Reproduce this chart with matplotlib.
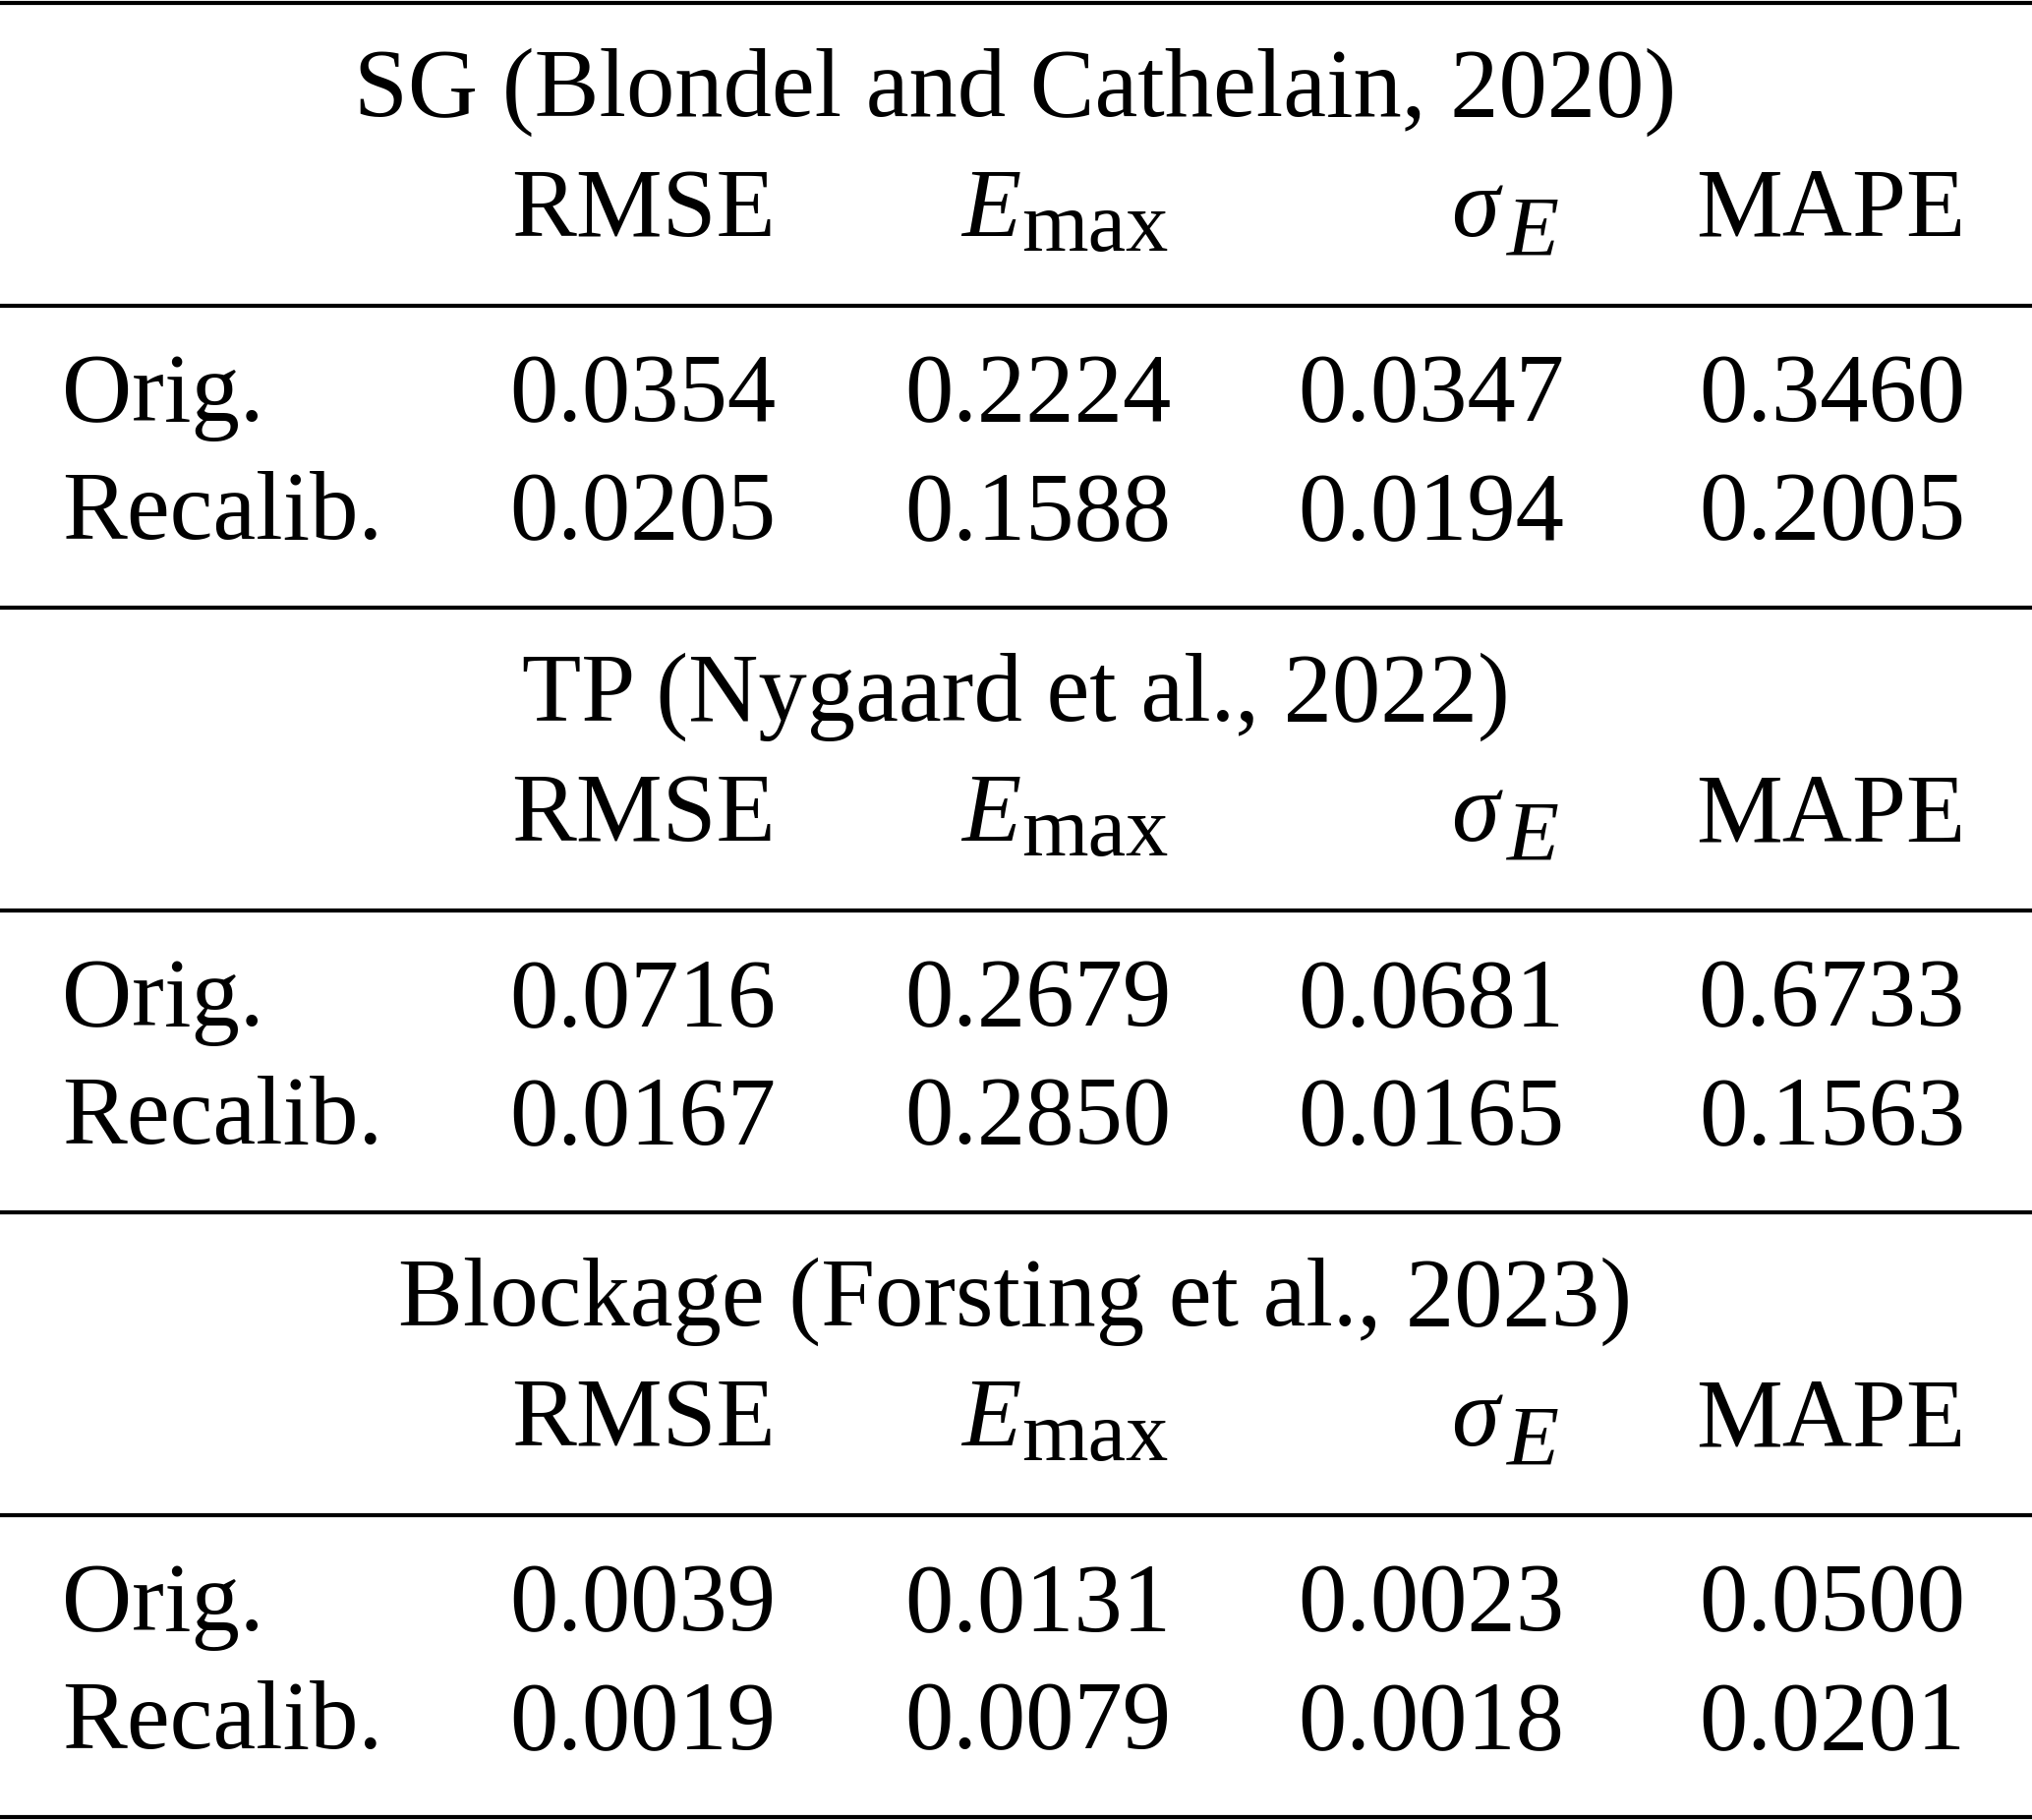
import matplotlib; matplotlib.use("Agg")
import matplotlib.pyplot as plt

# table content
titles = ["SG (Blondel and Cathelain, 2020)", "TP (Nygaard et al., 2022)", "Blockage (Forsting et al., 2023)"]
row_labels = ["Orig.", "Recalib."]
rmse  = [[0.0354, 0.0205], [0.0716, 0.0167], [0.0039, 0.0019]]
e_max = [[0.2224, 0.1588], [0.2679, 0.2850], [0.0131, 0.0079]]
sigma = [[0.0347, 0.0194], [0.0681, 0.0165], [0.0023, 0.0018]]
mape  = [[0.3460, 0.2005], [0.6733, 0.1563], [0.0500, 0.0201]]

plt.rcParams["font.family"] = "Liberation Serif"
W, H = 2067, 1851
fig = plt.figure(figsize=(W/100, H/100), dpi=100)
ax = fig.add_axes([0, 0, 1, 1]); ax.set_xlim(0, W); ax.set_ylim(H, 0); ax.axis("off")
r = fig.canvas.get_renderer()

FS = 71; SUB = FS*0.88; LW = 3.0
cols = [789, 1191, 1591, 1999]

def sub_right(x, y, base, sub, drop, gap=0, sub_style="normal"):
    t = ax.text(x, y+drop, sub, ha="right", va="baseline", fontsize=SUB, style=sub_style)
    w = t.get_window_extent(r).width
    ax.text(x-w-gap, y, base, ha="right", va="baseline", fontsize=FS, style="italic")

ax.axhline(3, color="black", lw=LW)
for i, title in enumerate(titles):
    top = 3 + 615*i
    ax.text(1033, top+115, title, ha="center", va="baseline", fontsize=FS)
    hy = top+237
    ax.text(cols[0], hy, "RMSE", ha="right", va="baseline", fontsize=FS)
    sub_right(cols[1]-3, hy, "E", "max", 15)
    sub_right(cols[2]-6, hy, "\u03c3", "E", 20, gap=7, sub_style="italic")
    ax.text(cols[3], hy, "MAPE", ha="right", va="baseline", fontsize=FS)
    ax.axhline(top+308, color="black", lw=LW)
    for j, lab in enumerate(row_labels):
        y = top+425+120*j
        ax.text(63, y, lab, ha="left", va="baseline", fontsize=FS)
        for x, v in zip(cols, [rmse[i][j], e_max[i][j], sigma[i][j], mape[i][j]]):
            ax.text(x, y, f"{v:.4f}", ha="right", va="baseline", fontsize=FS)
    ax.axhline(top+615, color="black", lw=LW)

fig.savefig("out.png", dpi=100, facecolor="white")
